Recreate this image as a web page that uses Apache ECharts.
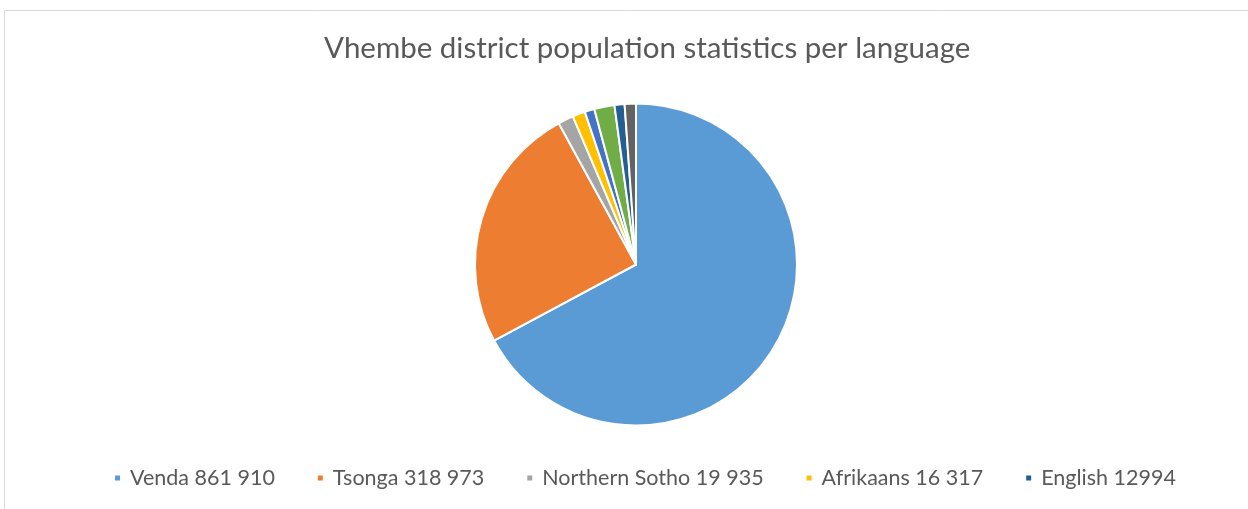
<!DOCTYPE html>
<html>
<head>
<meta charset="utf-8">
<script src="https://cdn.jsdelivr.net/npm/echarts@6/dist/echarts.min.js"></script>
<style>
html,body{margin:0;padding:0;background:#fff;}
#chart{width:1248px;height:509px;}
</style>
</head>
<body>
<div id="chart"></div>
<script>
const titleText = 'Vhembe district population statistics per language';
const languages = ['Venda', 'Tsonga', 'Northern Sotho', 'Afrikaans', 'Other language A', 'Other language B', 'English', 'Other language C'];
const population = [861910, 318973, 19935, 16317, 12500, 26000, 12994, 14500];
const legendLabels = ['Venda 861 910', 'Tsonga 318 973', 'Northern Sotho 19 935', 'Afrikaans 16 317', '', '', 'English 12994', ''];
const colors = ['#5B9BD5', '#ED7D31', '#A5A5A5', '#FFC000', '#4472C4', '#70AD47', '#255E91', '#636363'];
const legendShown = ['Venda', 'Tsonga', 'Northern Sotho', 'Afrikaans', 'English'];

const FONT = 'Lato';
const chart = echarts.init(document.getElementById('chart'), null, {renderer: 'canvas'});
const data = languages.map((name, i) => ({name, value: population[i], itemStyle: {color: colors[i]}}));
const labelMap = {};
languages.forEach((n, i) => { labelMap[n] = legendLabels[i]; });

chart.setOption({
  animation: false,
  backgroundColor: '#fff',
  title: {
    text: titleText,
    left: 319,
    top: 28,
    textStyle: {fontFamily: FONT, fontSize: 29.5, fontWeight: 'normal', color: '#595959'}
  },
  legend: {
    data: legendShown,
    bottom: 15,
    left: 108,
    icon: 'rect',
    itemWidth: 7,
    itemHeight: 7,
    itemGap: 41,
    formatter: n => labelMap[n],
    textStyle: {fontFamily: FONT, fontSize: 21.5, color: '#595959', padding: [0, 0, 0, 4]}
  },
  graphic: [{
    type: 'rect',
    shape: {x: 4.5, y: 10.5, width: 1400, height: 700},
    style: {fill: 'none', stroke: '#D9D9D9', lineWidth: 1},
    silent: true
  }],
  series: [{
    type: 'pie',
    center: [636, 264.5],
    radius: [0, 161],
    startAngle: 90,
    clockwise: true,
    label: {show: false},
    labelLine: {show: false},
    itemStyle: {borderColor: '#fff', borderWidth: 2},
    data: data
  }]
});
</script>
</body>
</html>
